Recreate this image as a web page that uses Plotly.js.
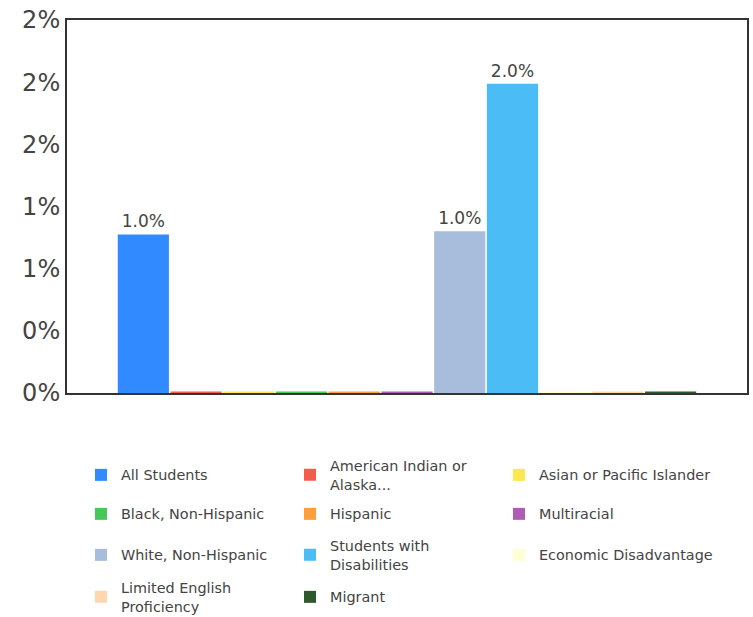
<!DOCTYPE html>
<html>
<head>
<meta charset="utf-8">
<script src="https://cdn.plot.ly/plotly-3.0.1.min.js"></script>
<style>html,body{margin:0;padding:0;background:#fff;}#chart{width:753px;height:617px;}</style>
</head>
<body>
<div id="chart"></div>
<script>
var groups = ["All Students", "American Indian or<br>Alaska...", "Asian or Pacific Islander", "Black, Non-Hispanic", "Hispanic", "Multiracial", "White, Non-Hispanic", "Students with<br>Disabilities", "Economic Disadvantage", "Limited English<br>Proficiency", "Migrant"];
var values = [1.02, 0, 0, 0, 0, 0, 1.04, 1.99, 0, 0, 0];
var colors = ["#318aff", "#f45b4f", "#ffe74f", "#46c75a", "#ff9f3c", "#ae5cb6", "#a7bddb", "#4bbcf5", "#ffffd6", "#ffd7ae", "#2e592e"];
var category = [""];
var tickVals = [0, 0.4, 0.8, 1.2, 1.6, 2.0, 2.4];
var tickText = tickVals.map(function (t) { return Math.round(t) + "%"; });

var W = 753, H = 617;
var legendRowCenters = [475, 514, 555, 597]; // pixel centres of the legend rows
var legendColX = [81, 290, 499];             // pixel left edges of the legend columns
var perRow = 3;

function legendId(i) { return i === 0 ? "legend" : "legend" + (i + 1); }

var minVisible = 0.009; // minimal drawn height so zero bars show as a thin line
var traces = groups.map(function (g, i) {
  var v = values[i];
  return {
    type: "bar",
    name: g,
    legend: legendId(i),
    x: category,
    y: [Math.max(v, minVisible)],
    customdata: [v],
    text: [v > 0 ? v.toFixed(1) + "%" : ""],
    textposition: "outside",
    cliponaxis: false,
    textfont: {family: "DejaVu Sans", size: 17, color: "#444"},
    marker: {color: colors[i]},
    hovertemplate: g.replace("<br>", " ") + ": %{customdata:.1f}%<extra></extra>"
  };
});

var layout = {
  width: W, height: H,
  margin: {l: 67, r: 6, t: 20, b: 224, autoexpand: false},
  paper_bgcolor: "#fff", plot_bgcolor: "#fff",
  font: {family: "DejaVu Sans", color: "#444"},
  barmode: "group",
  bargap: 0.147,
  bargroupgap: 0.03,
  showlegend: true,
  xaxis: {
    showticklabels: false, ticks: "", showgrid: false, zeroline: false,
    showline: true, linecolor: "#333", linewidth: 2, mirror: true
  },
  yaxis: {
    range: [0, 2.4], tickvals: tickVals, ticktext: tickText,
    showgrid: false, zeroline: false, ticks: "",
    showline: true, linecolor: "#333", linewidth: 2, mirror: true,
    tickfont: {family: "DejaVu Sans", size: 24, color: "#444"}
  }
};

groups.forEach(function (g, i) {
  var r = Math.floor(i / perRow), c = i % perRow;
  layout[legendId(i)] = {
    orientation: "v",
    xref: "container", x: legendColX[c] / W, xanchor: "left",
    yref: "container", y: (H - legendRowCenters[r]) / H, yanchor: "middle",
    font: {family: "DejaVu Sans", size: 14.4, color: "#444"},
    itemclick: false, bgcolor: "rgba(0,0,0,0)"
  };
});

Plotly.newPlot("chart", traces, layout, {displayModeBar: false, staticPlot: true});
</script>
</body>
</html>
